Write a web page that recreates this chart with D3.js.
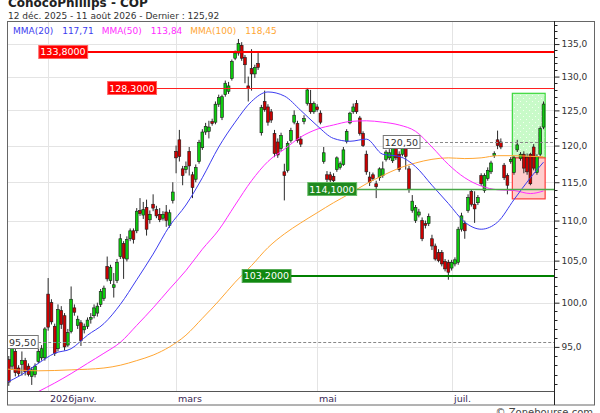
<!DOCTYPE html>
<html>
<head>
<meta charset="utf-8">
<script src="https://cdn.jsdelivr.net/npm/d3@7"></script>
<style>
  html, body { margin: 0; padding: 0; background: #fff; }
  svg { display: block; font-family: "DejaVu Sans", Verdana, sans-serif; }
</style>
</head>
<body>
<script>
// ConocoPhillips daily candles, 12 Dec 2025 - 11 Aug 2026
const title = 'ConocoPhillips - COP';
const firstDay = '2025-12-12';
const lastDay = '2026-08-11';
const holidays = ['2025-12-25', '2026-01-01', '2026-01-19', '2026-02-16',
                  '2026-04-03', '2026-05-25', '2026-06-19', '2026-07-03'];

const open = [
  95.0, 93.6, 92.9, 94.5, 92.7, 93.1, 93.5, 92.9, 91.8, 92.0,
  93.4, 93.8, 93.8, 101.0, 100.0, 97.3, 94.8, 99.1, 98.5, 95.2,
  96.7, 99.4, 97.4, 97.7, 96.9, 97.3, 98.1, 98.5, 98.8, 99.8,
  100.5, 104.3, 102.6, 101.8, 102.6, 105.5, 107.1, 105.2, 107.7, 108.7,
  108.7, 111.3, 110.7, 111.7, 110.1, 112.1, 111.4, 110.8, 110.3, 111.1,
  109.4, 112.6, 119.2, 120.8, 116.8, 116.7, 119.2, 116.0, 115.4, 117.8,
  119.7, 121.9, 122.0, 123.4, 123.3, 125.9, 124.0, 127.3, 127.8, 129.7,
  132.8, 133.6, 134.8, 132.9, 128.6, 131.2, 130.4, 132.0, 121.8, 126.3,
  125.5, 124.8, 121.7, 120.5, 119.6, 116.4, 116.6, 120.7, 123.3, 123.1,
  120.9, 123.4, 126.0, 126.0, 124.8, 125.5, 124.6, 117.8, 116.0, 116.0,
  115.8, 116.7, 117.0, 117.4, 120.6, 123.2, 124.8, 126.0, 123.9, 121.7,
  118.8, 115.7, 116.0, 114.8, 115.6, 115.9, 118.1, 118.3, 117.9, 119.7,
  118.8, 118.8, 119.8, 116.8, 111.3, 110.0, 110.7, 110.0, 109.6, 109.6,
  107.7, 106.8, 106.0, 106.0, 104.9, 104.8, 104.1, 104.6, 104.8, 108.9,
  109.6, 111.3, 113.8, 112.1, 112.3, 115.9, 113.9, 115.5, 116.4, 118.6,
  120.8, 120.5, 117.3, 115.9, 117.8, 116.3, 119.4, 118.2, 118.8, 118.4,
  118.8, 119.8, 116.3, 118.8, 122.6
];
const high = [
  95.4, 94.0, 95.6, 94.8, 93.0, 94.5, 93.8, 93.2, 92.8, 93.2,
  94.8, 95.2, 97.2, 102.9, 100.4, 97.6, 99.8, 99.6, 98.8, 97.0,
  101.9, 99.8, 98.5, 98.0, 97.6, 98.3, 98.8, 99.8, 100.0, 101.6,
  102.0, 105.5, 104.5, 103.5, 105.2, 108.3, 107.4, 108.0, 109.0, 109.0,
  111.6, 112.9, 112.4, 112.7, 111.3, 113.4, 111.9, 111.6, 111.2, 112.0,
  111.4, 115.0, 120.0, 122.2, 117.2, 117.8, 119.8, 116.4, 117.4, 120.8,
  122.3, 123.2, 123.5, 123.8, 126.3, 127.3, 127.3, 129.4, 129.2, 132.6,
  134.0, 135.8, 135.3, 133.3, 130.0, 134.2, 131.8, 133.6, 125.8, 127.9,
  125.9, 125.2, 122.2, 121.0, 121.8, 117.5, 120.6, 122.5, 125.0, 123.5,
  121.3, 124.3, 128.3, 128.0, 126.3, 125.9, 125.0, 119.8, 116.5, 116.4,
  116.2, 118.5, 117.8, 119.8, 122.3, 124.8, 126.0, 126.5, 124.2, 122.0,
  119.3, 116.4, 116.3, 115.2, 117.0, 117.8, 119.4, 119.5, 120.0, 120.2,
  119.2, 120.2, 120.3, 117.2, 113.3, 112.0, 111.5, 110.4, 110.0, 110.9,
  108.2, 107.1, 106.4, 106.3, 105.2, 105.1, 105.1, 105.4, 109.2, 111.0,
  110.0, 113.4, 114.1, 113.8, 113.3, 116.2, 116.2, 117.0, 117.9, 119.2,
  122.1, 121.0, 117.6, 116.2, 118.4, 118.6, 120.8, 119.1, 119.2, 118.9,
  119.0, 120.2, 118.8, 122.7, 126.3
];
const low = [
  94.0, 90.8, 92.5, 91.8, 91.8, 91.9, 91.9, 91.8, 90.9, 91.7,
  93.2, 93.5, 93.5, 96.8, 97.5, 94.0, 94.5, 97.0, 94.6, 95.0,
  96.5, 98.5, 97.0, 95.1, 96.5, 97.0, 97.6, 98.2, 98.4, 99.5,
  100.2, 102.5, 102.2, 100.6, 102.3, 105.2, 102.8, 104.9, 107.4, 107.1,
  108.4, 110.6, 110.2, 108.1, 109.6, 111.2, 110.3, 109.8, 110.0, 109.2,
  109.1, 112.2, 116.2, 117.8, 114.6, 116.2, 115.9, 112.9, 115.0, 117.5,
  119.4, 121.5, 121.0, 122.8, 123.0, 125.5, 123.6, 127.0, 127.4, 129.4,
  132.5, 133.2, 132.4, 129.0, 126.3, 127.9, 129.8, 131.0, 121.4, 124.8,
  122.8, 123.2, 118.4, 118.3, 119.2, 112.6, 116.3, 120.4, 123.0, 120.4,
  119.8, 123.0, 125.7, 124.5, 124.5, 124.8, 123.0, 117.5, 115.0, 115.0,
  114.8, 116.4, 116.7, 117.2, 120.3, 123.0, 124.5, 124.5, 121.4, 119.8,
  116.0, 114.5, 115.2, 112.9, 115.2, 115.6, 117.8, 118.0, 117.6, 118.0,
  116.4, 118.5, 116.7, 113.6, 111.0, 109.7, 110.4, 107.4, 109.0, 109.3,
  106.3, 105.0, 104.8, 104.3, 103.7, 102.7, 103.8, 104.3, 104.5, 108.6,
  107.7, 111.0, 111.8, 109.7, 112.0, 114.5, 113.6, 115.2, 116.1, 118.3,
  119.5, 119.5, 115.3, 113.4, 117.5, 116.0, 119.1, 117.9, 116.2, 116.0,
  114.6, 116.6, 116.0, 118.5, 122.3
];
const close = [
  94.4, 91.2, 94.9, 92.2, 92.1, 93.5, 92.3, 92.0, 92.5, 92.9,
  94.5, 94.8, 97.0, 97.2, 97.8, 94.3, 99.2, 97.5, 95.0, 96.6,
  100.4, 98.9, 98.1, 95.7, 97.3, 98.0, 98.3, 99.4, 99.6, 101.3,
  101.7, 102.8, 104.2, 102.1, 104.8, 107.7, 105.3, 107.6, 108.7, 107.6,
  111.2, 110.9, 111.4, 108.9, 110.8, 111.6, 110.6, 110.1, 110.8, 110.0,
  111.0, 113.7, 118.3, 118.5, 115.9, 117.1, 117.2, 114.3, 117.0, 120.4,
  121.9, 122.7, 122.6, 123.1, 125.9, 126.9, 127.0, 129.0, 128.6, 132.3,
  133.6, 135.1, 132.8, 131.8, 128.2, 130.4, 131.4, 131.4, 125.4, 125.1,
  123.3, 123.6, 118.9, 118.7, 121.4, 115.9, 120.3, 122.1, 124.3, 120.7,
  120.2, 123.8, 128.0, 124.8, 126.0, 125.1, 123.3, 119.0, 115.4, 115.3,
  115.2, 118.3, 117.5, 119.4, 122.0, 124.6, 125.5, 124.8, 121.7, 120.0,
  116.4, 115.0, 115.5, 114.4, 116.8, 116.8, 119.1, 119.0, 119.7, 118.3,
  116.7, 119.8, 118.5, 114.1, 112.5, 111.7, 111.1, 107.7, 109.4, 110.5,
  106.8, 105.2, 105.0, 104.6, 104.0, 103.6, 104.8, 105.1, 108.9, 110.6,
  108.7, 113.0, 112.1, 111.5, 113.0, 114.8, 115.9, 116.6, 117.6, 118.9,
  120.0, 119.8, 115.6, 114.6, 118.1, 118.3, 120.1, 118.8, 116.9, 116.4,
  114.8, 116.9, 118.5, 122.4, 125.92
];

// moving averages, [trading day number, value]
const mma20 = [
  [0, 91.1], [5, 92.0], [10, 93.2], [15, 94.3], [20, 94.8], [25, 96.3], [30, 97.6],
  [35, 99.8], [40, 102.7], [45, 105.8], [50, 109.3], [55, 112.0], [60, 115.6],
  [65, 119.8], [70, 123.3], [75, 126.3], [80, 127.7], [85, 127.1], [90, 125.0],
  [95, 122.8], [100, 121.0], [105, 120.6], [110, 120.9], [115, 118.8], [120, 118.5],
  [125, 117.1], [130, 114.6], [135, 112.2], [140, 109.8], [145, 108.9], [150, 109.8],
  [155, 112.7], [160, 115.6], [164, 117.71]
];
const mma50 = [
  [10, 90.2], [15, 91.1], [20, 92.1], [25, 93.2], [30, 94.3], [35, 95.5], [40, 97.4],
  [45, 99.4], [50, 101.6], [55, 103.8], [60, 106.4], [65, 108.8], [70, 112.0],
  [75, 115.2], [80, 117.8], [85, 119.5], [90, 121.2], [95, 122.3], [100, 122.9],
  [105, 123.4], [110, 123.5], [115, 123.3], [120, 122.9], [125, 122.0], [130, 119.8],
  [135, 117.4], [140, 115.6], [145, 114.5], [150, 114.0], [155, 113.9], [160, 113.5],
  [164, 113.84]
];
const mma100 = [
  [0, 92.6], [10, 92.4], [20, 92.5], [30, 92.7], [35, 93.0], [40, 93.5], [45, 94.1],
  [50, 95.0], [55, 96.3], [60, 98.2], [65, 100.2], [70, 102.4], [75, 104.4],
  [80, 106.6], [85, 108.3], [90, 109.7], [95, 111.0], [100, 112.3], [105, 113.5],
  [110, 114.8], [115, 115.9], [120, 116.9], [125, 117.6], [130, 118.1], [135, 118.3],
  [140, 118.2], [145, 118.3], [150, 118.6], [155, 118.6], [160, 118.5], [164, 118.45]
];
const maNames = ['MMA(20)', 'MMA(50)', 'MMA(100)'];

// horizontal levels drawn on the chart
const levelValues = [133.8, 128.3, 114.1, 103.2, 120.5, 95.5];
const levelLabels = ['133,8000', '128,3000', '114,1000', '103,2000', '120,50', '95,50'];
const levelFrom = ['2025-12-29', '2026-01-29', '2026-04-28', '2026-03-30', '2026-06-01', '2025-12-12'];
const levelKinds = ['resistance2', 'resistance', 'support', 'support2', 'marker', 'marker'];

// target / stop zone on the last days
const zoneDays = ['2026-07-28', '2026-08-10'];
const zonePrices = [127.5, 118.3, 112.8];

// axes
const priceTicks = [95, 100, 105, 110, 115, 120, 125, 130, 135];
const monthTicks = ['2026-01-02', '2026-03-02', '2026-05-01', '2026-07-01'];
const monthLabels = ['2026janv.', 'mars', 'mai', 'juil.'];
const frMonths = ['janv.', 'févr.', 'mars', 'avr.', 'mai', 'juin', 'juil.', 'août', 'sept.', 'oct.', 'nov.', 'déc.'];

// ---------------------------------------------------------------------
const fmtDay = d3.utcFormat('%Y-%m-%d');
const dates = d3.utcDay.range(new Date(firstDay + 'T00:00Z'), d3.utcDay.offset(new Date(lastDay + 'T00:00Z'), 1))
  .filter(d => d.getUTCDay() !== 0 && d.getUTCDay() !== 6 && !holidays.includes(fmtDay(d)))
  .map(fmtDay);

const fr = d3.formatLocale({decimal: ',', thousands: ' ', grouping: [3], currency: ['', ' €']});
const fmt1 = fr.format('.1f');
const fmt2 = fr.format('.2f');
function frDate(s) {
  let d = new Date(s + 'T00:00Z');
  return d.getUTCDate() + ' ' + frMonths[d.getUTCMonth()] + ' ' + d.getUTCFullYear();
}

const W = 600, H = 413;
const plot = {left: 7, right: 554, top: 22, bottom: 391};

const svg = d3.select('body').append('svg')
  .attr('width', W)
  .attr('height', H);

const x = d3.scalePoint().domain(dates).range([5.5, 543.5]);
const step = x.step();
const y = d3.scaleLog().domain([90.26, 138.5]).range([plot.bottom, plot.top]);

svg.append('clipPath').attr('id', 'plotclip')
  .append('rect')
  .attr('x', plot.left).attr('y', plot.top)
  .attr('width', plot.right - plot.left).attr('height', plot.bottom - plot.top);

// dotted fill for the green zone
let pat = svg.append('pattern').attr('id', 'dots')
  .attr('width', 6).attr('height', 6).attr('patternUnits', 'userSpaceOnUse');
pat.append('rect').attr('width', 6).attr('height', 6).attr('fill', '#c8fac8');
pat.append('rect').attr('x', 1).attr('y', 2).attr('width', 1).attr('height', 1).attr('fill', '#f4fff0');
pat.append('rect').attr('x', 4).attr('y', 5).attr('width', 1).attr('height', 1).attr('fill', '#f4fff0');

const g = svg.append('g').attr('clip-path', 'url(#plotclip)');

// grid
g.selectAll('.hgrid')
  .data(priceTicks)
  .join('line')
    .attr('class', 'hgrid')
    .attr('x1', plot.left).attr('x2', plot.right)
    .attr('y1', d => Math.round(y(d)) + 0.5).attr('y2', d => Math.round(y(d)) + 0.5)
    .attr('stroke', '#e4e4e4');
g.selectAll('.vgrid')
  .data(monthTicks)
  .join('line')
    .attr('class', 'vgrid')
    .attr('x1', d => Math.round(x(d)) + 0.5).attr('x2', d => Math.round(x(d)) + 0.5)
    .attr('y1', plot.top).attr('y2', plot.bottom)
    .attr('stroke', '#e4e4e4');

// zones
let zx0 = x(zoneDays[0]) + step / 2, zx1 = x(zoneDays[1]) + step * 1.5;
g.append('rect')
  .attr('x', zx0).attr('width', zx1 - zx0)
  .attr('y', y(zonePrices[0])).attr('height', y(zonePrices[1]) - y(zonePrices[0]))
  .attr('fill', 'url(#dots)').attr('stroke', '#3cd83c').attr('stroke-width', 1.2);
g.append('rect')
  .attr('x', zx0).attr('width', zx1 - zx0)
  .attr('y', y(zonePrices[1])).attr('height', y(zonePrices[2]) - y(zonePrices[1]))
  .attr('fill', '#ffcdcd').attr('stroke', '#ff3c3c').attr('stroke-width', 1.2);

// candles
const bodyW = 2.8;
let candle = g.append('g').selectAll('g')
  .data(d3.range(dates.length))
  .join('g');
candle.append('line')
  .attr('x1', i => x(dates[i])).attr('x2', i => x(dates[i]))
  .attr('y1', i => y(high[i])).attr('y2', i => y(low[i]))
  .attr('stroke', '#2a2a2a').attr('stroke-width', 1);
candle.append('rect')
  .attr('x', i => x(dates[i]) - bodyW / 2)
  .attr('y', i => y(Math.max(open[i], close[i])))
  .attr('width', bodyW)
  .attr('height', i => Math.max(1, Math.abs(y(open[i]) - y(close[i]))))
  .attr('fill', i => close[i] >= open[i] ? '#0ccc0c' : '#cc0000')
  .attr('stroke', '#1a1a1a').attr('stroke-width', 0.6);

// moving averages
const maColors = ['#3c3cf0', '#ff2cff', '#ffa633'];
const maLine = d3.line()
  .x(d => x(dates[d[0]]))
  .y(d => y(d[1]))
  .curve(d3.curveMonotoneX);
[mma100, mma50, mma20].forEach((ma, k) => {
  g.append('path')
    .attr('d', maLine(ma))
    .attr('fill', 'none')
    .attr('stroke', maColors[2 - k])
    .attr('stroke-width', 1);
});

// levels with their boxes
const levelStyle = {
  resistance2: {line: '#ff0000', width: 2, box: '#ff0000', border: '#ff6060', text: '#fff'},
  resistance:  {line: '#ff2020', width: 1, box: '#ff0000', border: '#ff6060', text: '#fff'},
  support:     {line: '#4aa84a', width: 1.5, box: '#1f8a1f', border: '#66bb66', text: '#fff'},
  support2:    {line: '#008000', width: 2, box: '#118811', border: '#55aa55', text: '#fff'},
  marker:      {line: '#888', width: 1, box: '#fff', border: '#777', text: '#333', dash: '3,2'}
};
const lv = svg.append('g');
levelValues.forEach((v, k) => {
  let st = levelStyle[levelKinds[k]];
  let ly = Math.round(y(v)) + (st.width === 2 ? 0 : 0.5);
  let bx = Math.max(plot.left, x(levelFrom[k]));
  let t = lv.append('text')
    .attr('x', bx + 2).attr('y', ly).attr('dy', '0.36em')
    .attr('font-size', 9.5).attr('fill', st.text)
    .text(levelLabels[k]);
  let tw = t.node().getComputedTextLength();
  lv.append('line')
    .attr('x1', bx + tw + 4).attr('x2', plot.right)
    .attr('y1', ly).attr('y2', ly)
    .attr('stroke', st.line).attr('stroke-width', st.width)
    .attr('stroke-dasharray', st.dash || null);
  lv.insert('rect', 'text')
    .attr('x', bx + 0.5).attr('y', Math.round(y(v)) - 6.5)
    .attr('width', tw + 3.5).attr('height', 13)
    .attr('fill', st.box).attr('stroke', st.border);
});

// legend
let lx = 13;
maNames.forEach((name, k) => {
  let ma = [mma20, mma50, mma100][k];
  let a = svg.append('text').attr('x', lx).attr('y', 34)
    .attr('font-size', 9).attr('fill', maColors[k]).text(name);
  lx += a.node().getComputedTextLength() + 9;
  let b = svg.append('text').attr('x', lx).attr('y', 34)
    .attr('font-size', 9).attr('fill', maColors[k]).text(fmt2(ma[ma.length - 1][1]));
  lx += b.node().getComputedTextLength() + 8;
});

// frame
svg.append('rect')
  .attr('x', plot.left + 0.5).attr('y', plot.top - 0.5)
  .attr('width', 594 - plot.left).attr('height', 405 - plot.top + 0.5)
  .attr('fill', 'none').attr('stroke', '#666');
svg.append('line')
  .attr('x1', plot.left).attr('x2', plot.right)
  .attr('y1', plot.bottom + 0.5).attr('y2', plot.bottom + 0.5)
  .attr('stroke', '#555');

// price axis on the right
const yAxis = d3.axisRight(y)
  .tickValues(priceTicks)
  .tickSize(5)
  .tickPadding(2)
  .tickFormat(fmt1);
let ya = svg.append('g')
  .attr('transform', `translate(${plot.right + 0.5},0)`)
  .call(yAxis);
ya.select('.domain').attr('d', `M0,${plot.top - 1}V405`).attr('stroke', '#222');
ya.selectAll('.tick line').attr('stroke', '#222');
ya.selectAll('.tick text').attr('font-size', 9).attr('fill', '#333')
  .attr('font-family', '"DejaVu Sans", Verdana, sans-serif');
const minor = d3.range(91, 139).filter(v => v % 5 !== 0);
ya.selectAll('.minor')
  .data(minor)
  .join('line')
    .attr('class', 'minor')
    .attr('x1', 0).attr('x2', 3)
    .attr('y1', d => Math.round(y(d)) + 0.5).attr('y2', d => Math.round(y(d)) + 0.5)
    .attr('stroke', '#222');

// month labels
svg.selectAll('.month')
  .data(monthTicks)
  .join('text')
    .attr('class', 'month')
    .attr('x', d => Math.round(x(d)) + 2)
    .attr('y', 402)
    .attr('font-size', 9.5)
    .attr('fill', '#3a2a55')
    .text((d, i) => monthLabels[i]);

// titles
svg.append('text').attr('x', 8).attr('y', 6.5)
  .attr('font-size', 12).attr('font-weight', 'bold').attr('fill', '#222')
  .text(title);
svg.append('text').attr('x', 8).attr('y', 19)
  .attr('font-size', 9).attr('fill', '#333')
  .text(frDate(firstDay) + ' - ' + frDate(lastDay) + ' - Dernier : ' + fmt2(close[close.length - 1]));
svg.append('text').attr('x', 593).attr('y', 416).attr('text-anchor', 'end')
  .attr('font-size', 10).attr('fill', '#444')
  .text('© Zonebourse.com');
</script>
</body>
</html>
